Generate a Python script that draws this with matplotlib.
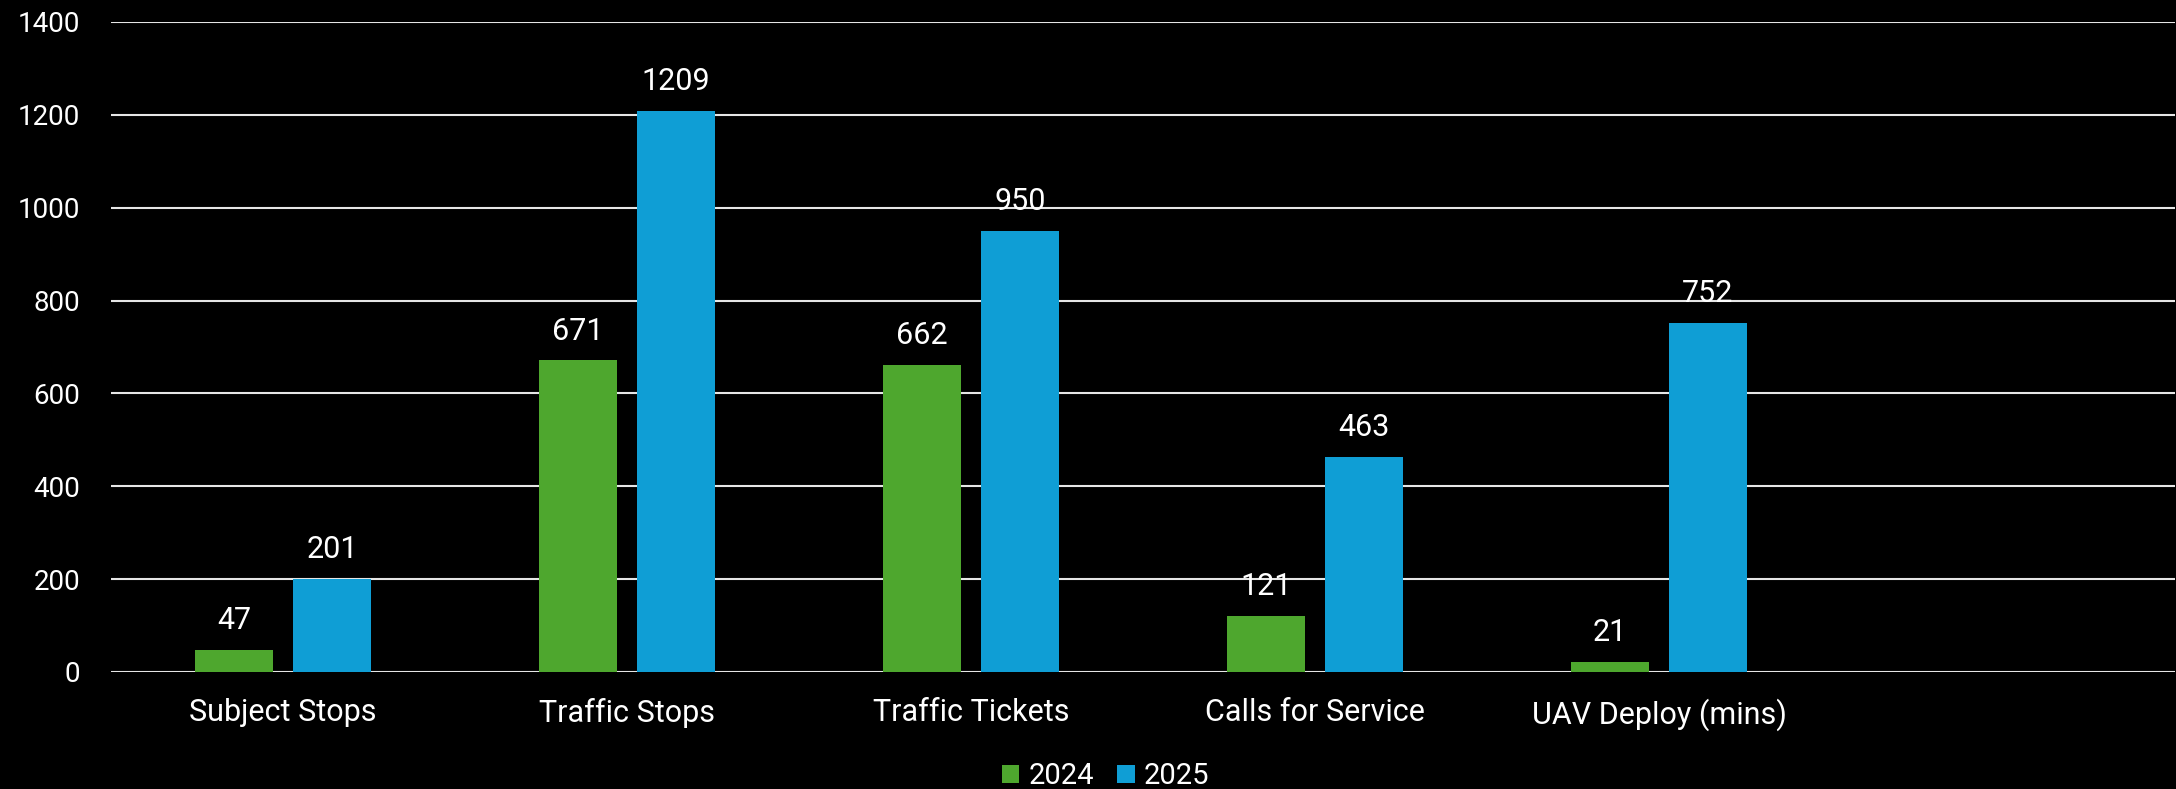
import matplotlib.pyplot as plt
import numpy as np

categories = ['Subject Stops', 'Traffic Stops', 'Traffic Tickets', 'Calls for Service', 'UAV Deploy (mins)']
values_2024 = [47, 671, 662, 121, 21]
values_2025 = [201, 1209, 950, 463, 752]
series_names = ['2024', '2025']
y_ticks = [0, 200, 400, 600, 800, 1000, 1200, 1400]

green = '#4EA72E'
blue = '#0F9ED5'

plt.rcParams['font.family'] = ['Roboto', 'DejaVu Sans']

fig = plt.figure(figsize=(21.76, 7.89), dpi=100, facecolor='black')
ax = fig.add_axes([111 / 2176, 1 - 672 / 789, 2064 / 2176, (672 - 22) / 789])
ax.set_facecolor('black')

x = np.arange(len(categories))
w = 0.224
off = 0.1425
b1 = ax.bar(x - off, values_2024, w, color=green, label=series_names[0], zorder=3)
b2 = ax.bar(x + off, values_2025, w, color=blue, label=series_names[1], zorder=3)

# value labels above the bars
for bars in (b1, b2):
    for r in bars:
        ax.annotate(str(int(r.get_height())), (r.get_x() + r.get_width() / 2, r.get_height()),
                    xytext=(0, 15), textcoords='offset points', ha='center', va='baseline',
                    color='white', fontsize=22)

ax.set_xlim(-0.5, 5.5)
ax.set_ylim(0, 1400)
ax.set_yticks(y_ticks)
ax.set_xticks(x)
ax.set_xticklabels(categories)
ax.grid(axis='y', color='#e6e6e6', linewidth=1.5, zorder=0)
ax.tick_params(axis='both', length=0, colors='white', labelsize=22)
ax.tick_params(axis='y', pad=22, labelsize=20)
ax.tick_params(axis='x', pad=19)
for s in ax.spines.values():
    s.set_visible(False)

fig.legend(loc='center', bbox_to_anchor=(0.508, 0.016), ncol=2, frameon=False,
           fontsize=21, labelcolor='white', handlelength=0.6, handleheight=0.6,
           handletextpad=0.3, columnspacing=0.8)

fig.savefig('out.png', dpi=100, facecolor='black')
